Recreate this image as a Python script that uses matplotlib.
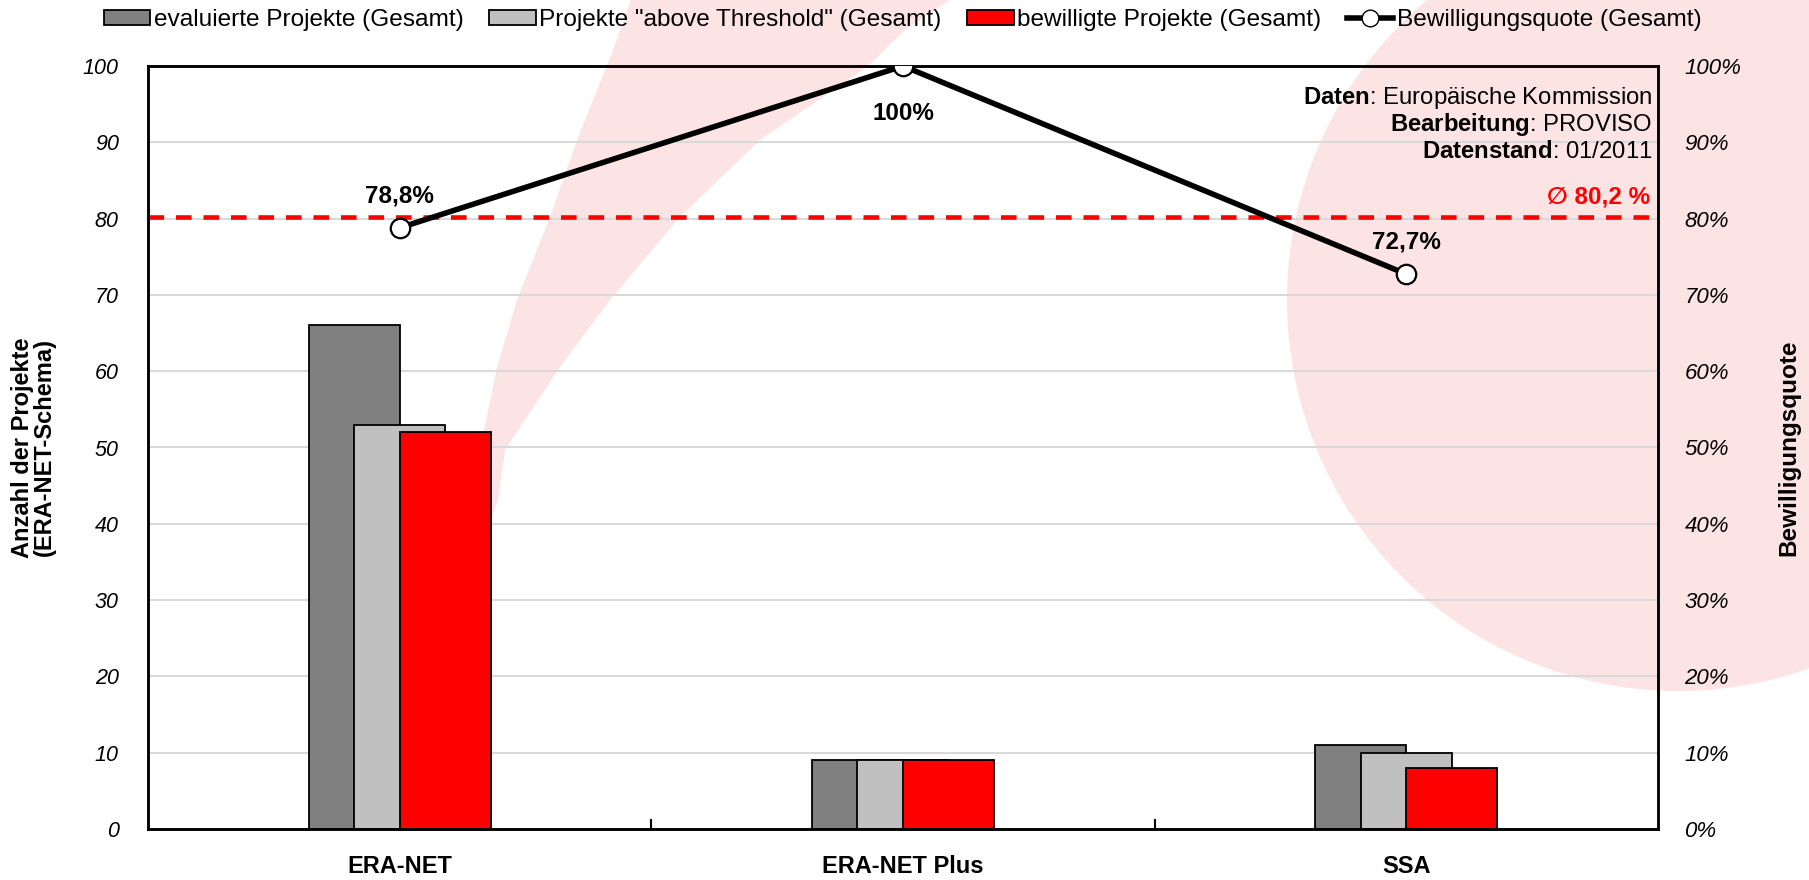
import matplotlib
matplotlib.use("Agg")
import matplotlib.pyplot as plt
import numpy as np
from matplotlib.patches import Polygon, Ellipse, Patch
from matplotlib.lines import Line2D
from matplotlib.ticker import PercentFormatter, MultipleLocator

plt.rcParams['font.family'] = ['Liberation Sans', 'DejaVu Sans']
plt.rcParams['mathtext.fontset'] = 'custom'
plt.rcParams['mathtext.rm'] = 'Liberation Sans'
plt.rcParams['mathtext.bf'] = 'Liberation Sans:bold'

# data
categories = ['ERA-NET', 'ERA-NET Plus', 'SSA']
evaluiert = [66, 9, 11]
above_threshold = [53, 9, 10]
bewilligt = [52, 9, 8]
quote = [b / e for b, e in zip(bewilligt, evaluiert)]
quote_mittel = sum(bewilligt) / sum(evaluiert)

legend_labels = ['evaluierte Projekte (Gesamt)', 'Projekte "above Threshold" (Gesamt)',
                 'bewilligte Projekte (Gesamt)', 'Bewilligungsquote (Gesamt)']

W, H = 1809, 880
fig = plt.figure(figsize=(W / 100, H / 100), dpi=100)

# faint logo watermark in the background (pixel positions, y from top)
def px(pts):
    return [(x / W, 1 - y / H) for x, y in pts]

left_edge = [(645, -10), (631, 0), (613, 50), (577, 140), (550, 217), (517, 300),
             (497, 367), (480, 450), (474, 520), (482, 545)]
right_edge = [(498, 500), (505, 450), (560, 367), (610, 300), (680, 217), (760, 140),
              (867, 67), (905, 30), (950, 0), (965, -10)]
fig.patches.append(Polygon(px(left_edge + right_edge), closed=True, transform=fig.transFigure,
                           facecolor='#fce4e4', edgecolor='none', zorder=-10))
fig.patches.append(Ellipse((1678 / W, 1 - 300 / H), 2 * 391 / W, 2 * 391 / H,
                           transform=fig.transFigure, facecolor='#fce4e4',
                           edgecolor='none', zorder=-10))

ax = fig.add_axes([148 / W, 51 / H, 1510 / W, 763 / H])
ax.patch.set_facecolor('none')
ax2 = ax.twinx()

x = np.arange(len(categories))
bw = 0.181
off = 0.0904
ax.bar(x - off, evaluiert, bw, color='#808080', edgecolor='black', linewidth=1.3, zorder=3)
ax.bar(x, above_threshold, bw, color='#c0c0c0', edgecolor='black', linewidth=1.3, zorder=4)
ax.bar(x + off, bewilligt, bw, color='#ff0000', edgecolor='black', linewidth=1.3, zorder=5)

ax.set_xlim(-0.5, len(categories) - 0.5)
ax.set_ylim(0, 100)
ax.yaxis.set_major_locator(MultipleLocator(10))
ax.grid(axis='y', color='#d9d9d9', linewidth=1.5, zorder=0)
ax.set_axisbelow(True)

ax.set_xticks(x)
ax.set_xticklabels(categories, fontsize=17, fontweight='bold')
ax.set_xticks(np.arange(0.5, len(categories) - 0.5), minor=True)
ax.tick_params(axis='x', which='major', length=0, pad=19)
ax.tick_params(axis='x', which='minor', length=7, width=1.5, direction='in')
ax.tick_params(axis='y', length=0, pad=21, labelsize=15.5)
for t in ax.get_yticklabels():
    t.set_fontstyle('italic')

ax.set_ylabel('Anzahl der Projekte\n(ERA-NET-Schema)', fontsize=17, fontweight='bold',
              linespacing=0.95)
ax.yaxis.set_label_coords(-0.061, 0.5)

for s in ax.spines.values():
    s.set_linewidth(1.8)

# right axis: approval rate
ax2.set_ylim(0, 1)
ax2.yaxis.set_major_locator(MultipleLocator(0.1))
ax2.yaxis.set_major_formatter(PercentFormatter(1, decimals=0))
ax2.tick_params(axis='y', length=0, pad=19, labelsize=16)
for t in ax2.get_yticklabels():
    t.set_fontstyle('italic')
ax2.set_ylabel('Bewilligungsquote', fontsize=17.5, fontweight='bold')
ax2.yaxis.set_label_coords(1.079, 0.5)
for s in ax2.spines.values():
    s.set_linewidth(1.8)

ax2.axhline(quote_mittel, color='#ff0000', linewidth=3.3, linestyle=(0, (3.4, 2.6)), zorder=2)
ax2.plot(x, quote, color='black', linewidth=4, marker='o', markersize=14,
         markerfacecolor='white', markeredgecolor='black', markeredgewidth=1.6, zorder=3)


def fmt(v):
    p = v * 100
    if abs(p - round(p)) < 1e-9:
        return f'{int(round(p))}%'
    return f'{p:.1f}%'.replace('.', ',')


for xi, q in zip(x, quote):
    dy = -34 if q >= 0.999 else 23
    ax2.annotate(fmt(q), (xi, q), xytext=(0, dy), textcoords='offset points',
                 ha='center', va='center', fontsize=17.5, fontweight='bold', zorder=6)

ax2.text(0.995, 1 - (197 - 66) / 763, '\u2205 ' + f'{quote_mittel * 100:.1f}'.replace('.', ',') + ' %',
         transform=ax2.transAxes, ha='right', va='center', color='#ff0000',
         fontsize=17.5, fontweight='bold')

src = [r'$\bf{Daten}$: Europäische Kommission',
       r'$\bf{Bearbeitung}$: PROVISO',
       r'$\bf{Datenstand}$: 01/2011']
for i, s in enumerate(src):
    ax2.text(0.996, 1 - (98 + 27 * i - 66) / 763, s, transform=ax2.transAxes,
             ha='right', va='center', fontsize=17.2)

handles = [Patch(facecolor='#808080', edgecolor='black', linewidth=1.3),
           Patch(facecolor='#c0c0c0', edgecolor='black', linewidth=1.3),
           Patch(facecolor='#ff0000', edgecolor='black', linewidth=1.3),
           Line2D([], [], color='black', linewidth=4, marker='o', markersize=12,
                  markerfacecolor='white', markeredgecolor='black')]
fig.legend(handles, legend_labels, loc='center', bbox_to_anchor=(0.499, 1 - 20 / H),
           ncol=4, frameon=False, fontsize=17.6, handlelength=1.9, handleheight=0.55,
           handletextpad=0.15, columnspacing=1.05)

fig.savefig('out.png', dpi=100)
